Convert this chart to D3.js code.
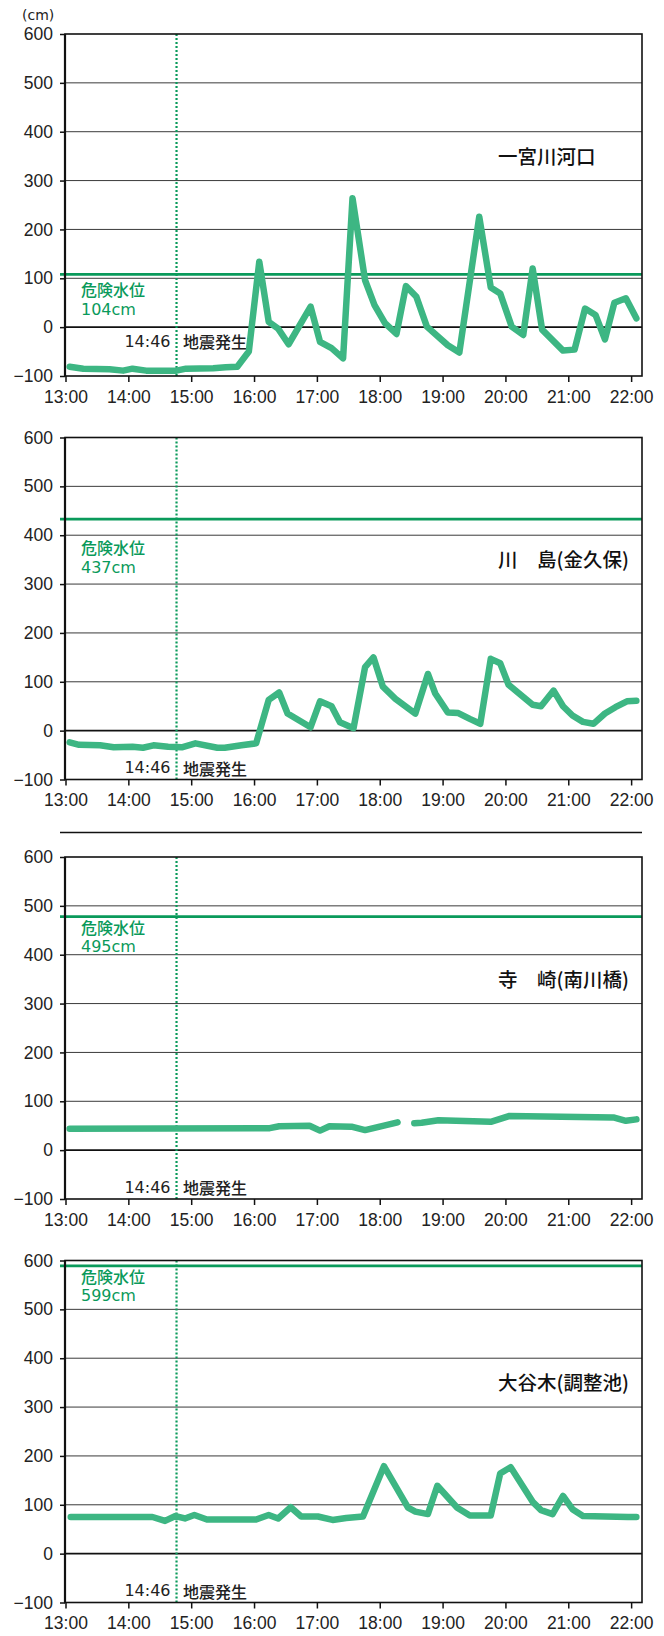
<!DOCTYPE html>
<html lang="ja">
<head>
<meta charset="UTF-8">
<title>水位の変化</title>
<script src="https://d3js.org/d3.v7.min.js"></script>
<style>
  body { margin: 0; background: #fff; }
  svg { display: block; font-family: "DejaVu Sans", "Noto Sans CJK JP", sans-serif; }
  .axis path { display: none; }
  .axis line { stroke: #111; stroke-width: 1.5; }
  .axis text { font-size: 17.5px; fill: #222; }
  .grid line { stroke: #3a3a3a; stroke-width: 1; }
  .series { fill: none; stroke: #3db683; stroke-width: 6.5; stroke-linejoin: round; stroke-linecap: round; }
  .danger { stroke: #0a9a5b; stroke-width: 2.6; }
  .danger-label { fill: #0a9a5b; font-size: 16px; font-weight: 500; }
  .quake { stroke: #0a9a5b; stroke-width: 2.2; stroke-dasharray: 2 2; }
  .quake-label { fill: #222; font-size: 16px; font-weight: 500; }
  .station { fill: #111; font-size: 19.5px; font-weight: 500; font-family: "Noto Sans CJK JP", sans-serif; }
</style>
</head>
<body>
<div id="chart"></div>
<script>
// stations and danger levels
const stations = ["一宮川河口", "川　島(金久保)", "寺　崎(南川橋)", "大谷木(調整池)"];
const dangerText = ["104cm", "437cm", "495cm", "599cm"];
const dangerDrawn = [108, 433, 478, 589];   // where the line sits in the picture
const yTicks = [-100, 0, 100, 200, 300, 400, 500, 600];
const xTickHours = [13, 14, 15, 16, 17, 18, 19, 20, 21, 22];
const quakeMinute = 106; // 14:46

// minutes after 13:00 / water level (cm)
const min1 = [4, 17, 42, 55, 64, 77, 106, 115, 141, 153, 164, 175, 185, 194, 203, 213, 234, 243, 254, 265,
  274, 286, 295, 305, 316, 325, 335, 345, 365, 376, 395, 406, 415, 426, 437, 446, 455, 475, 486, 496,
  506, 515, 524, 535, 545];
const lvl1 = [-81, -85, -86, -89, -85, -89, -89, -85, -84, -82, -81, -50, 134, 11, -3, -35, 42, -30, -43, -64,
  264, 96, 45, 8, -14, 84, 62, 1, -37, -52, 226, 81, 69, 1, -16, 120, -5, -48, -46, 38,
  25, -25, 50, 59, 18];

const min2 = [4, 13, 33, 46, 64, 74, 84, 98, 111, 124, 145, 152, 168, 182, 194, 204, 212, 234, 243, 254,
  262, 275, 286, 294, 303, 315, 334, 346, 353, 365, 375, 386, 396, 406, 415, 423, 446, 454, 466, 475,
  484, 494, 504, 515, 525, 536, 545];
const lvl2 = [-24, -29, -30, -34, -33, -35, -30, -33, -34, -26, -35, -35, -30, -26, 63, 78, 35, 7, 60, 50,
  17, 5, 130, 150, 90, 65, 35, 116, 76, 37, 36, 24, 14, 147, 138, 94, 53, 50, 82, 50,
  31, 18, 14, 35, 48, 60, 61];

const min3 = [4, 195, 204, 233, 243, 252, 273, 286, 317, 325, 333, 340, 356, 406, 424, 523, 535, 545];
const lvl3 = [44, 45, 49, 50, 40, 49, 48, 41, 57, null, 55, 56, 61, 58, 70, 67, 60, 63];

const min4 = [5, 83, 95, 105, 114, 123, 135, 182, 194, 203, 215, 225, 241, 255, 268, 284, 304, 327, 334, 346,
  355, 374, 386, 406, 415, 425, 446, 454, 465, 475, 484, 494, 537, 545];
const lvl4 = [75, 75, 67, 77, 72, 79, 70, 70, 79, 72, 95, 76, 76, 69, 73, 76, 179, 94, 86, 81,
  139, 94, 78, 78, 164, 177, 106, 89, 81, 118, 91, 77, 75, 75];

const seriesMin = [min1, min2, min3, min4];
const seriesLvl = [lvl1, lvl2, lvl3, lvl4];

// layout
const W = 664, H = 1636;
const left = 65, right = 642, plotH = 342;
const tops = [34, 437.5, 857, 1260.5];
const dangerLabelDy = [17, 30, 12, 12];
const quakeLabelDy = [35, 12, 12, 12];

const base = new Date(2011, 2, 11, 13, 0);
const at = m => new Date(base.getTime() + m * 60000);

const svg = d3.select("#chart").append("svg")
  .attr("width", W).attr("height", H)
  .attr("viewBox", `0 0 ${W} ${H}`);

const x = d3.scaleTime().domain([at(0), at(550)]).range([left + 0.5, right - 0.4]);

svg.append("text")
  .attr("x", 22).attr("y", 15)
  .attr("dominant-baseline", "central")
  .style("font-size", "14px").style("fill", "#222")
  .text("(cm)");

// separator between the two pairs
svg.append("line")
  .attr("x1", 60).attr("x2", right)
  .attr("y1", 832.5).attr("y2", 832.5)
  .attr("stroke", "#111").attr("stroke-width", 1.5);

stations.forEach((name, i) => {
  const top = tops[i], bottom = top + plotH;
  const y = d3.scaleLinear().domain([-100, 600]).range([bottom, top]);
  const g = svg.append("g");

  // grid
  g.append("g").attr("class", "grid")
    .selectAll("line").data(yTicks.filter(v => v !== -100 && v !== 600)).enter()
    .append("line")
    .attr("x1", left).attr("x2", right)
    .attr("y1", d => y(d)).attr("y2", d => y(d))
    .style("stroke", d => d === 0 ? "#111" : null)
    .style("stroke-width", d => d === 0 ? 1.6 : null);

  // danger level
  const dy = y(dangerDrawn[i]);
  g.append("line").attr("class", "danger")
    .attr("x1", 60).attr("x2", right)
    .attr("y1", dy).attr("y2", dy);
  g.append("text").attr("class", "danger-label")
    .attr("x", 81).attr("y", dy + dangerLabelDy[i] + 5)
    .style("font-family", "'Noto Sans CJK JP', sans-serif")
    .text("危険水位");
  g.append("text").attr("class", "danger-label")
    .attr("x", 81).attr("y", dy + dangerLabelDy[i] + 23.5)
    .text(dangerText[i]);

  // earthquake marker
  const qx = x(at(quakeMinute));
  g.append("line").attr("class", "quake")
    .attr("x1", qx).attr("x2", qx).attr("y1", top).attr("y2", bottom);
  g.append("text").attr("class", "quake-label")
    .attr("x", qx - 6).attr("y", bottom - quakeLabelDy[i])
    .attr("text-anchor", "end").attr("dominant-baseline", "central")
    .text("14:46");
  g.append("text").attr("class", "quake-label")
    .attr("x", qx + 6.5).attr("y", bottom - quakeLabelDy[i])
    .attr("dominant-baseline", "central")
    .style("font-family", "'Noto Sans CJK JP', sans-serif")
    .text("地震発生");

  // station name
  g.append("text").attr("class", "station")
    .attr("x", 498).attr("y", top + 121)
    .attr("dominant-baseline", "central")
    .text(name);

  // series
  const pts = seriesMin[i].map((m, k) => ({ t: at(m), v: seriesLvl[i][k] }));
  const line = d3.line()
    .defined(d => d.v != null)
    .x(d => x(d.t)).y(d => y(d.v));
  g.append("path").attr("class", "series").attr("d", line(pts));

  // frame
  g.append("rect")
    .attr("x", left).attr("y", top)
    .attr("width", right - left).attr("height", plotH)
    .attr("fill", "none").attr("stroke", "#111").attr("stroke-width", 1.6);
  g.append("line")
    .attr("x1", left).attr("x2", left).attr("y1", top).attr("y2", bottom)
    .attr("stroke", "#111").attr("stroke-width", 2.2);

  // axes
  g.append("g").attr("class", "axis")
    .attr("transform", `translate(${left},0)`)
    .call(d3.axisLeft(y).tickValues(yTicks).tickSize(5).tickPadding(7).tickFormat(d => d < 0 ? "−" + (-d) : d));
  g.append("g").attr("class", "axis")
    .attr("transform", `translate(0,${bottom})`)
    .call(d3.axisBottom(x)
      .tickValues(xTickHours.map(h => at((h - 13) * 60)))
      .tickSize(6).tickPadding(8.5)
      .tickFormat(d3.timeFormat("%H:%M")));
});
</script>
</body>
</html>
